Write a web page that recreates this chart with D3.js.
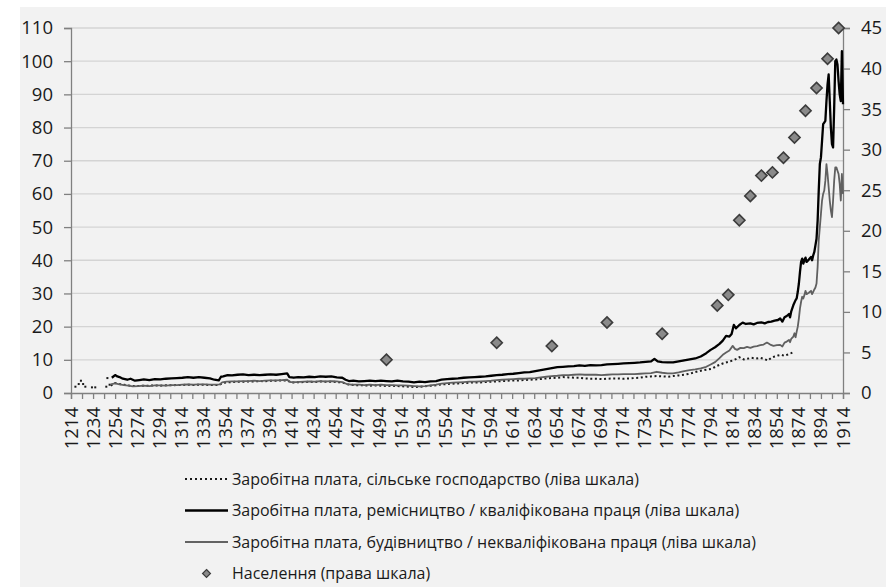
<!DOCTYPE html>
<html>
<head>
<meta charset="utf-8">
<script src="https://cdnjs.cloudflare.com/ajax/libs/d3/7.8.5/d3.min.js"></script>
<style>
  body { margin: 0; background: #fff; }
  svg { display: block; }
  text { font-family: 'Open Sans', 'Noto Sans', sans-serif; fill: #1a1a1a; }
</style>
</head>
<body>
<svg id="chart" width="895" height="587"></svg>
<script>
// x axis labels: every 20 years, ticks every 10
const tickYears = d3.range(1214, 1915, 10);
const labelYears = d3.range(1214, 1915, 20);
const leftTicks = d3.range(0, 111, 10);
const rightTicks = d3.range(0, 46, 5);

// wage, agriculture (left scale) - scattered early readings, then continuous
const agriEarly = [[1218, 1.9], [1221, 2.7], [1223, 3.7], [1225, 2.7], [1227, 1.9],
  [1233, 1.7], [1236, 1.7], [1246, 1.9], [1247, 4.5], [1249, 2.5]];
const agri = [[1250, 2.2], [1254, 3.0], [1258, 2.7], [1262, 2.5], [1266, 2.3], [1270, 2.1], [1275, 2.1],
  [1280, 2.2], [1285, 2.2], [1290, 2.3], [1295, 2.2], [1300, 2.3], [1305, 2.3], [1310, 2.4], [1315, 2.4],
  [1320, 2.5], [1325, 2.4], [1330, 2.5], [1335, 2.5], [1340, 2.4], [1345, 2.4], [1349, 2.5], [1351, 3.0],
  [1355, 3.2], [1360, 3.3], [1365, 3.4], [1370, 3.4], [1375, 3.5], [1380, 3.5], [1385, 3.6], [1390, 3.5],
  [1395, 3.7], [1400, 3.7], [1405, 3.8], [1410, 3.8], [1413, 3.2], [1418, 3.2], [1425, 3.3], [1430, 3.4],
  [1435, 3.3], [1440, 3.5], [1445, 3.4], [1450, 3.4], [1455, 3.3], [1460, 3.2], [1465, 2.6], [1470, 2.4],
  [1475, 2.3], [1480, 2.3], [1485, 2.2], [1490, 2.3], [1495, 2.2], [1500, 2.1], [1505, 2.2], [1510, 2.1],
  [1515, 2.0], [1520, 1.9], [1525, 1.8], [1530, 1.9], [1535, 2.0], [1540, 2.2], [1545, 2.3], [1550, 2.6],
  [1555, 2.7], [1560, 2.8], [1565, 2.9], [1570, 3.0], [1575, 3.1], [1580, 3.2], [1585, 3.2], [1590, 3.3],
  [1595, 3.4], [1600, 3.5], [1605, 3.6], [1610, 3.7], [1615, 3.8], [1620, 3.8], [1625, 3.9], [1630, 4.0],
  [1635, 4.1], [1640, 4.2], [1645, 4.4], [1650, 4.5], [1655, 4.6], [1660, 4.8], [1665, 4.7], [1670, 4.6],
  [1675, 4.6], [1680, 4.4], [1685, 4.3], [1690, 4.3], [1695, 4.2], [1700, 4.3], [1705, 4.4], [1710, 4.4],
  [1715, 4.3], [1720, 4.4], [1725, 4.5], [1730, 4.6], [1735, 4.9], [1740, 5.0], [1745, 5.1], [1750, 5.0],
  [1755, 4.9], [1760, 5.1], [1765, 5.3], [1770, 5.5], [1775, 5.8], [1780, 6.3], [1785, 6.7], [1790, 7.0],
  [1795, 7.3], [1800, 8.2], [1805, 8.9], [1810, 9.4], [1814, 9.8], [1818, 10.4], [1820, 10.8], [1824, 10.1],
  [1827, 10.3], [1831, 10.6], [1835, 10.4], [1839, 10.6], [1843, 10.2], [1846, 9.8], [1849, 10.6],
  [1852, 11.0], [1855, 11.3], [1858, 11.5], [1861, 11.2], [1864, 11.6], [1867, 12.0], [1869, 12.3]];

// wage, craftsmen / skilled (left scale)
const craft = [[1251, 4.6], [1254, 5.4], [1256, 5.0], [1258, 4.8], [1261, 4.3], [1265, 4.0], [1268, 4.3],
  [1272, 3.7], [1276, 3.9], [1280, 4.1], [1285, 3.9], [1290, 4.2], [1295, 4.1], [1300, 4.3], [1305, 4.4],
  [1310, 4.5], [1315, 4.6], [1320, 4.8], [1325, 4.6], [1330, 4.8], [1335, 4.6], [1340, 4.4], [1344, 4.0],
  [1348, 3.8], [1350, 4.9], [1352, 5.0], [1356, 5.4], [1360, 5.3], [1365, 5.5], [1370, 5.6], [1375, 5.4],
  [1380, 5.5], [1385, 5.4], [1390, 5.5], [1395, 5.6], [1400, 5.5], [1405, 5.7], [1410, 5.9], [1412, 4.8],
  [1416, 4.6], [1420, 4.8], [1425, 4.7], [1430, 4.9], [1435, 4.8], [1440, 5.0], [1445, 4.9], [1450, 5.0],
  [1455, 4.7], [1460, 4.6], [1463, 4.0], [1466, 3.6], [1470, 3.7], [1475, 3.5], [1480, 3.6], [1485, 3.7],
  [1490, 3.6], [1495, 3.7], [1500, 3.6], [1505, 3.5], [1510, 3.7], [1515, 3.5], [1520, 3.4], [1525, 3.2],
  [1530, 3.4], [1535, 3.3], [1540, 3.5], [1545, 3.6], [1550, 4.0], [1555, 4.2], [1560, 4.3], [1565, 4.4],
  [1570, 4.6], [1575, 4.7], [1580, 4.8], [1585, 4.9], [1590, 5.0], [1595, 5.2], [1600, 5.4], [1605, 5.5],
  [1610, 5.7], [1615, 5.8], [1620, 6.0], [1625, 6.2], [1630, 6.3], [1635, 6.6], [1640, 6.9], [1645, 7.2],
  [1650, 7.5], [1655, 7.8], [1660, 7.9], [1665, 8.0], [1670, 8.1], [1675, 8.3], [1680, 8.2], [1685, 8.4],
  [1690, 8.3], [1695, 8.4], [1700, 8.6], [1705, 8.7], [1710, 8.8], [1715, 8.9], [1720, 9.0], [1725, 9.1],
  [1730, 9.2], [1735, 9.4], [1740, 9.5], [1743, 10.3], [1746, 9.5], [1750, 9.3], [1755, 9.2], [1760, 9.2],
  [1765, 9.5], [1770, 9.8], [1775, 10.1], [1780, 10.4], [1785, 11.0], [1790, 12.0], [1794, 13.0],
  [1798, 13.8], [1802, 14.8], [1805, 15.8], [1808, 17.2], [1811, 17.0], [1813, 17.8], [1815, 20.5],
  [1817, 19.5], [1820, 20.5], [1823, 21.2], [1826, 20.8], [1830, 21.0], [1833, 20.7], [1836, 21.1],
  [1840, 21.3], [1843, 21.0], [1846, 21.4], [1849, 21.5], [1852, 21.8], [1855, 22.0], [1857, 22.5],
  [1859, 21.5], [1861, 22.8], [1863, 23.2], [1865, 23.8], [1866, 22.8], [1867, 24.5], [1869, 26.5],
  [1871, 28.0], [1872, 28.5], [1873, 30.5], [1874, 33], [1875, 36.5], [1876, 39.5], [1877, 40.5],
  [1878, 39.0], [1879, 40.0], [1880, 40.8], [1881, 39.5], [1883, 40.2], [1885, 41.0], [1886, 40.0],
  [1887, 41.5], [1888, 42.5], [1889, 44.5], [1890, 46.5], [1891, 52], [1892, 61], [1893, 69], [1894, 71],
  [1895, 76], [1896, 81], [1897, 81.5], [1898, 82], [1899, 88], [1900, 93], [1901, 96], [1902, 88],
  [1903, 80], [1904, 75], [1905, 74], [1906, 86], [1907, 100], [1908, 100.5], [1909, 99], [1910, 94],
  [1911, 90], [1912, 88], [1913, 103], [1914, 87]];

// wage, building / unskilled (left scale)
const building = [[1250, 2.6], [1254, 2.9], [1258, 2.6], [1262, 2.4], [1266, 2.2], [1270, 2.0], [1275, 2.1],
  [1280, 2.2], [1285, 2.1], [1290, 2.3], [1295, 2.3], [1300, 2.2], [1305, 2.4], [1310, 2.4], [1315, 2.5],
  [1320, 2.6], [1325, 2.5], [1330, 2.6], [1335, 2.6], [1340, 2.5], [1345, 2.5], [1349, 2.6], [1351, 3.2],
  [1355, 3.4], [1360, 3.5], [1365, 3.5], [1370, 3.6], [1375, 3.6], [1380, 3.7], [1385, 3.6], [1390, 3.7],
  [1395, 3.8], [1400, 3.8], [1405, 3.9], [1410, 4.0], [1413, 3.3], [1418, 3.3], [1425, 3.4], [1430, 3.5],
  [1435, 3.4], [1440, 3.6], [1445, 3.5], [1450, 3.6], [1455, 3.5], [1460, 3.3], [1464, 2.7], [1468, 2.5],
  [1475, 2.5], [1480, 2.4], [1485, 2.5], [1490, 2.4], [1495, 2.5], [1500, 2.4], [1505, 2.4], [1510, 2.3],
  [1515, 2.3], [1520, 2.2], [1525, 2.1], [1530, 2.0], [1535, 2.1], [1540, 2.3], [1545, 2.5], [1550, 2.8],
  [1555, 3.0], [1560, 3.1], [1565, 3.2], [1570, 3.3], [1575, 3.4], [1580, 3.4], [1585, 3.5], [1590, 3.6],
  [1595, 3.7], [1600, 3.9], [1605, 4.0], [1610, 4.1], [1615, 4.2], [1620, 4.3], [1625, 4.3], [1630, 4.4],
  [1635, 4.5], [1640, 4.7], [1645, 4.9], [1650, 5.1], [1655, 5.2], [1660, 5.4], [1665, 5.4], [1670, 5.5],
  [1675, 5.6], [1680, 5.5], [1685, 5.5], [1690, 5.5], [1695, 5.4], [1700, 5.5], [1705, 5.6], [1710, 5.6],
  [1715, 5.7], [1720, 5.7], [1725, 5.7], [1730, 5.8], [1735, 5.9], [1740, 6.0], [1745, 6.4], [1750, 6.1],
  [1755, 5.9], [1760, 5.9], [1765, 6.2], [1770, 6.6], [1775, 6.9], [1780, 7.1], [1785, 7.4], [1790, 7.9],
  [1794, 8.6], [1798, 9.3], [1802, 10.5], [1805, 11.5], [1808, 12.2], [1811, 12.8], [1814, 14.2],
  [1816, 13.3], [1818, 13.0], [1821, 13.6], [1824, 13.5], [1827, 13.9], [1830, 13.6], [1833, 14.0],
  [1836, 14.1], [1839, 14.4], [1842, 14.6], [1845, 15.2], [1848, 14.6], [1851, 14.2], [1854, 14.4],
  [1857, 14.5], [1859, 14.0], [1861, 15.2], [1863, 15.5], [1865, 16.0], [1866, 15.3], [1867, 16.3],
  [1869, 17.0], [1870, 18.0], [1871, 16.8], [1872, 18.5], [1873, 20.0], [1874, 22.5], [1875, 25.5],
  [1876, 27.5], [1877, 29.0], [1878, 28.5], [1879, 29.5], [1880, 30.8], [1881, 29.8], [1883, 30.2],
  [1885, 30.8], [1886, 29.8], [1887, 30.5], [1888, 31.2], [1889, 31.8], [1890, 33], [1891, 38], [1892, 46],
  [1893, 50], [1894, 54], [1895, 58], [1896, 60], [1897, 61], [1898, 64], [1899, 69], [1900, 66],
  [1901, 62], [1902, 58], [1903, 55], [1904, 53], [1905, 58], [1906, 64], [1907, 68], [1908, 68],
  [1909, 67], [1910, 66], [1911, 63], [1912, 58], [1913, 66], [1914, 60]];

// population (right scale)
const population = [[1500, 4.1], [1600, 6.2], [1650, 5.8], [1700, 8.7], [1750, 7.3], [1800, 10.8],
  [1810, 12.1], [1820, 21.3], [1830, 24.3], [1840, 26.8], [1850, 27.2], [1860, 29.0], [1870, 31.5],
  [1880, 34.8], [1890, 37.6], [1900, 41.2], [1910, 45.0]];

const legendItems = [
  { label: "Заробітна плата, сільське господарство (ліва шкала)", kind: "dot" },
  { label: "Заробітна плата, ремісництво / кваліфікована праця (ліва шкала)", kind: "craft" },
  { label: "Заробітна плата, будівництво / некваліфікована праця (ліва шкала)", kind: "build" },
  { label: "Населення (права шкала)", kind: "diamond" }
];

const svg = d3.select("#chart");
const plot = { left: 71, right: 843, top: 28, bottom: 393 };
const tickFont = 18.5;

svg.append("rect").attr("x", 20).attr("y", 7).attr("width", 866).attr("height", 580).attr("fill", "#f2f2f2");

const x = d3.scaleLinear().domain([1214, 1914]).range([plot.left, plot.right]);
const yL = d3.scaleLinear().domain([0, 110]).range([plot.bottom, plot.top]);
const yR = d3.scaleLinear().domain([0, 45]).range([plot.bottom, plot.top]);

// gridlines
svg.append("g").selectAll("line").data(leftTicks.slice(1)).join("line")
  .attr("x1", plot.left).attr("x2", plot.right)
  .attr("y1", d => yL(d)).attr("y2", d => yL(d))
  .attr("stroke", "#d4d4d4").attr("stroke-width", 1.3);

// left axis
const gL = svg.append("g").attr("transform", `translate(${plot.left},0)`)
  .call(d3.axisLeft(yL).tickValues(leftTicks).tickSize(7).tickPadding(11));
// right axis
const gR = svg.append("g").attr("transform", `translate(${plot.right},0)`)
  .call(d3.axisRight(yR).tickValues(rightTicks).tickSize(7).tickPadding(11));
// x axis
const gX = svg.append("g").attr("transform", `translate(0,${plot.bottom})`)
  .call(d3.axisBottom(x).tickValues(tickYears).tickSize(6).tickFormat(""));
svg.append("g").selectAll("text").data(labelYears).join("text")
  .attr("transform", d => `translate(${x(d) + 6.5},${plot.bottom + 14}) rotate(-90)`)
  .attr("text-anchor", "end")
  .attr("font-size", tickFont)
  .text(d => d);

[gL, gR, gX].forEach(g => {
  g.select(".domain").attr("stroke", "#808080").attr("stroke-width", 1.3);
  g.selectAll(".tick line").attr("stroke", "#808080").attr("stroke-width", 1.3);
  g.selectAll(".tick text").attr("font-size", tickFont).attr("font-family", "'Open Sans', sans-serif").attr("fill", "#1a1a1a");
});

const line = d3.line().x(d => x(d[0])).y(d => yL(d[1]));

// agriculture - dotted
svg.append("path").datum(agri).attr("d", line)
  .attr("fill", "none").attr("stroke", "#1a1a1a").attr("stroke-width", 2)
  .attr("stroke-dasharray", "2,2.6");
svg.append("g").selectAll("rect").data(agriEarly).join("rect")
  .attr("x", d => x(d[0]) - 1).attr("y", d => yL(d[1]) - 1)
  .attr("width", 2).attr("height", 2).attr("fill", "#1a1a1a");

// building - gray
svg.append("path").datum(building).attr("d", line)
  .attr("fill", "none").attr("stroke", "#606060").attr("stroke-width", 1.8)
  .attr("stroke-linejoin", "round");

// craft - black
svg.append("path").datum(craft).attr("d", line)
  .attr("fill", "none").attr("stroke", "#000").attr("stroke-width", 2.3)
  .attr("stroke-linejoin", "round");

// population - diamonds
const diamond = d3.symbol().type(d3.symbolDiamond2).size(80);
svg.append("g").selectAll("path").data(population).join("path")
  .attr("transform", d => `translate(${x(d[0])},${yR(d[1])})`)
  .attr("d", diamond)
  .attr("fill", "#8a8a8a").attr("stroke", "#3c3c3c").attr("stroke-width", 1.6);

// legend
const lg = svg.append("g");
const legendTop = 479, legendStep = 31.5, sx1 = 185, sx2 = 228, tx = 232;
legendItems.forEach((item, i) => {
  const yy = legendTop + i * legendStep;
  if (item.kind === "dot") {
    lg.append("line").attr("x1", sx1).attr("x2", sx2).attr("y1", yy).attr("y2", yy)
      .attr("stroke", "#1a1a1a").attr("stroke-width", 2).attr("stroke-dasharray", "2,3");
  } else if (item.kind === "craft") {
    lg.append("line").attr("x1", sx1).attr("x2", sx2).attr("y1", yy).attr("y2", yy)
      .attr("stroke", "#000").attr("stroke-width", 2.6);
  } else if (item.kind === "build") {
    lg.append("line").attr("x1", sx1).attr("x2", sx2).attr("y1", yy).attr("y2", yy)
      .attr("stroke", "#333").attr("stroke-width", 1.5);
  } else {
    lg.append("path").attr("transform", `translate(${(sx1 + sx2) / 2},${yy})`)
      .attr("d", d3.symbol().type(d3.symbolDiamond2).size(40))
      .attr("fill", "#8a8a8a").attr("stroke", "#3c3c3c").attr("stroke-width", 1.2);
  }
  const t = lg.append("text").attr("x", tx).attr("y", yy).attr("dy", "0.35em")
    .attr("font-size", 17).text(item.label);
  // the original legend font is narrower than Open Sans
  const w = t.node().getComputedTextLength();
  t.attr("textLength", w * 0.94).attr("lengthAdjust", "spacingAndGlyphs");
});
</script>
</body>
</html>
